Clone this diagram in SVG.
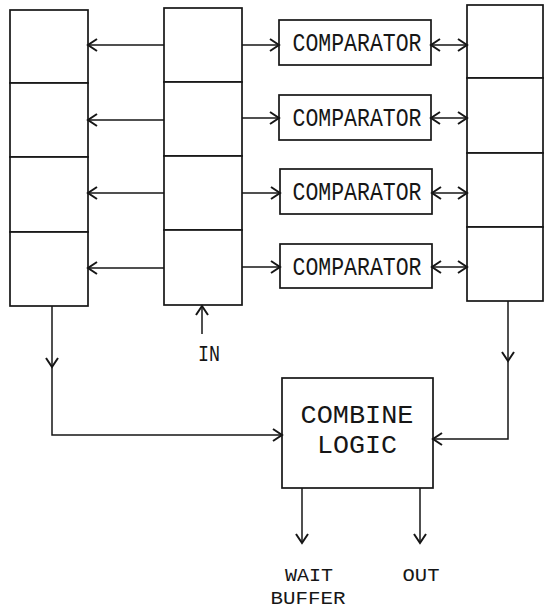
<svg xmlns="http://www.w3.org/2000/svg" width="545" height="609" viewBox="0 0 545 609">
<style>
.box{fill:#fff;stroke:#161616;stroke-width:1.7}
.ln{fill:none;stroke:#161616;stroke-width:1.5}
.t{font-family:"Liberation Mono","DejaVu Sans Mono",monospace;fill:#161616;text-anchor:middle}
</style>
<defs>
<marker id="arr" markerWidth="12" markerHeight="14" refX="10" refY="7" orient="auto-start-reverse" markerUnits="userSpaceOnUse">
<path d="M1,1 L10,7 L1,13" fill="none" stroke="#161616" stroke-width="2"/>
</marker>
</defs>
<rect width="545" height="609" fill="#fff"/>
<g id="left-register">
<rect class="box" x="10" y="10" width="78" height="73"/>
<rect class="box" x="10" y="83" width="78" height="74"/>
<rect class="box" x="10" y="157" width="78" height="75"/>
<rect class="box" x="10" y="232" width="78" height="74"/>
</g>
<g id="input-register">
<rect class="box" x="164" y="8" width="78" height="74"/>
<rect class="box" x="164" y="82" width="78" height="74"/>
<rect class="box" x="164" y="156" width="78" height="74"/>
<rect class="box" x="164" y="230" width="78" height="75"/>
</g>
<g id="right-register">
<rect class="box" x="467" y="5" width="76" height="73"/>
<rect class="box" x="467" y="78" width="76" height="75"/>
<rect class="box" x="467" y="153" width="76" height="74"/>
<rect class="box" x="467" y="227" width="76" height="74"/>
</g>
<g id="comparator1">
<rect class="box" x="279" y="20" width="152" height="45"/>
<text class="t" x="357" y="51" font-size="25" textLength="129" lengthAdjust="spacingAndGlyphs">COMPARATOR</text>
</g>
<g id="comparator2">
<rect class="box" x="279" y="95" width="152" height="45"/>
<text class="t" x="357" y="126" font-size="25" textLength="129" lengthAdjust="spacingAndGlyphs">COMPARATOR</text>
</g>
<g id="comparator3">
<rect class="box" x="280" y="169" width="152" height="45"/>
<text class="t" x="357" y="200" font-size="25" textLength="129" lengthAdjust="spacingAndGlyphs">COMPARATOR</text>
</g>
<g id="comparator4">
<rect class="box" x="280" y="244" width="152" height="44"/>
<text class="t" x="357" y="275" font-size="25" textLength="129" lengthAdjust="spacingAndGlyphs">COMPARATOR</text>
</g>
<g id="combine-logic">
<rect class="box" x="282" y="378" width="151" height="110"/>
<text class="t" x="357" y="423" font-size="26" textLength="113" lengthAdjust="spacingAndGlyphs">COMBINE</text>
<text class="t" x="357" y="453" font-size="26" textLength="80" lengthAdjust="spacingAndGlyphs">LOGIC</text>
</g>
<g id="labels">
<text class="t" x="209" y="361" font-size="22" textLength="22" lengthAdjust="spacingAndGlyphs">IN</text>
<text class="t" x="309" y="581" font-size="18" textLength="48" lengthAdjust="spacingAndGlyphs">WAIT</text>
<text class="t" x="308" y="604" font-size="18" textLength="75" lengthAdjust="spacingAndGlyphs">BUFFER</text>
<text class="t" x="421" y="581" font-size="18" textLength="37" lengthAdjust="spacingAndGlyphs">OUT</text>
</g>
<g id="connectors">
<path class="ln" d="M164,45 L88,45" marker-end="url(#arr)"/>
<path class="ln" d="M164,120 L88,120" marker-end="url(#arr)"/>
<path class="ln" d="M164,193 L88,193" marker-end="url(#arr)"/>
<path class="ln" d="M164,268 L88,268" marker-end="url(#arr)"/>
<path class="ln" d="M242,45 L279,45" marker-end="url(#arr)"/>
<path class="ln" d="M242,118 L279,118" marker-end="url(#arr)"/>
<path class="ln" d="M242,193 L280,193" marker-end="url(#arr)"/>
<path class="ln" d="M242,267 L280,267" marker-end="url(#arr)"/>
<path class="ln" d="M431,45 L467,45" marker-start="url(#arr)" marker-end="url(#arr)"/>
<path class="ln" d="M431,118 L467,118" marker-start="url(#arr)" marker-end="url(#arr)"/>
<path class="ln" d="M432,193 L467,193" marker-start="url(#arr)" marker-end="url(#arr)"/>
<path class="ln" d="M432,267 L467,267" marker-start="url(#arr)" marker-end="url(#arr)"/>
<path class="ln" d="M202,334 L202,306" marker-end="url(#arr)"/>
<path class="ln" d="M52,306 L52,367" marker-end="url(#arr)"/>
<path class="ln" d="M52,367 L52,435 L282,435" marker-end="url(#arr)"/>
<path class="ln" d="M508,301 L508,361" marker-end="url(#arr)"/>
<path class="ln" d="M508,361 L508,439 L433,439" marker-end="url(#arr)"/>
<path class="ln" d="M302,488 L302,543" marker-end="url(#arr)"/>
<path class="ln" d="M420,488 L420,543" marker-end="url(#arr)"/>
</g>
</svg>
